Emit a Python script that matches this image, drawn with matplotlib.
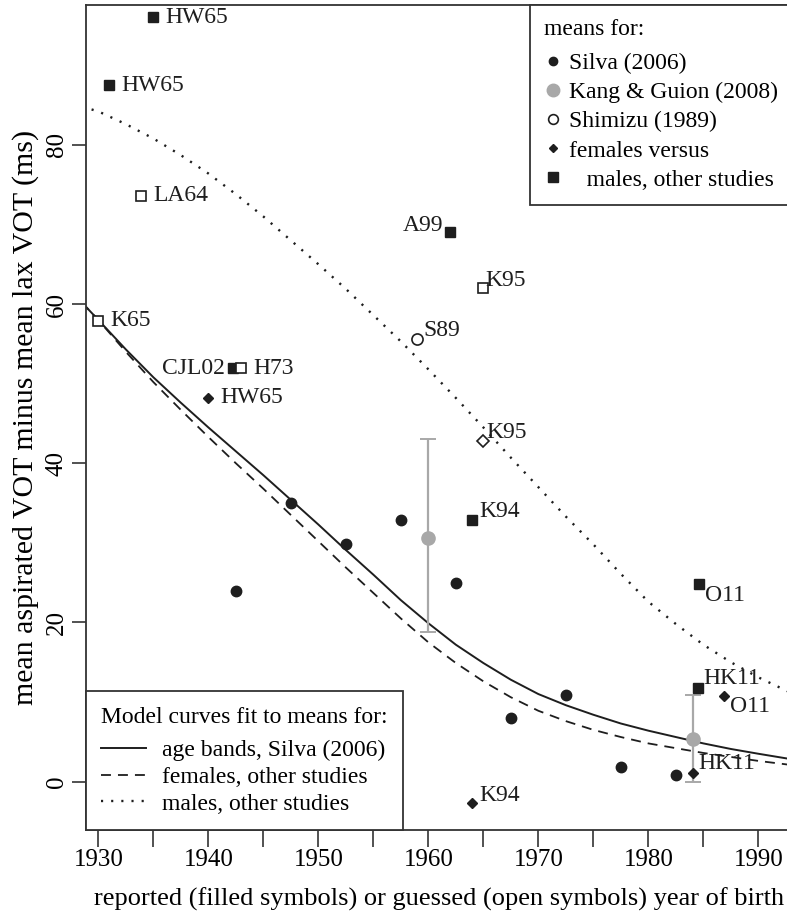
import numpy as np
import matplotlib
matplotlib.use('Agg')
import matplotlib.pyplot as plt
from matplotlib.lines import Line2D

plt.rcParams['font.family'] = ['Liberation Serif', 'DejaVu Serif']
plt.rcParams['font.size'] = 17

# ---- data ----
# Silva (2006) age bands
SILVA_YEAR = [1942.5, 1947.5, 1952.5, 1957.5, 1962.5, 1967.5, 1972.5, 1977.5, 1982.5]
SILVA_VOT = [23.9, 35.0, 29.9, 32.9, 24.9, 8.0, 10.9, 1.8, 0.8]

# Kang & Guion (2008), mean with range
KG_YEAR = [1960.0, 1984.1]
KG_VOT = [30.6, 5.3]
KG_LOW = [18.8, -0.1]
KG_HIGH = [43.0, 10.9]

# Shimizu (1989)
SHIM_YEAR = [1959.0]
SHIM_VOT = [55.6]
SHIM_LABEL = ['S89']

# females, other studies (open = guessed year)
FEM_YEAR = [1940.0, 1965.0, 1964.0, 1986.9, 1984.1]
FEM_VOT = [48.2, 42.8, -2.7, 10.8, 1.1]
FEM_LABEL = ['HW65', 'K95', 'K94', 'O11', 'HK11']
FEM_OPEN = [False, True, False, False, False]

# males, other studies
MALE_YEAR = [1935.0, 1931.0, 1933.9, 1930.0, 1942.2, 1943.0, 1962.0, 1965.0, 1964.0, 1984.6, 1984.5]
MALE_VOT = [96.0, 87.5, 73.6, 57.9, 51.9, 51.9, 69.0, 62.0, 32.9, 24.8, 11.7]
MALE_LABEL = ['HW65', 'HW65', 'LA64', 'K65', 'CJL02', 'H73', 'A99', 'K95', 'K94', 'O11', 'HK11']
MALE_OPEN = [False, False, True, True, False, True, False, True, False, False, False]

# model curves
CURVE_YEAR = [1928.5, 1930, 1932.5, 1935, 1937.5, 1940, 1942.5, 1945, 1947.5, 1950, 1952.5, 1955,
              1957.5, 1960, 1962.5, 1965, 1967.5, 1970, 1972.5, 1975, 1977.5, 1980, 1982.5, 1985,
              1987.5, 1990, 1993.5]
CURVE_SILVA = [60.2, 58.0, 54.3, 50.8, 47.6, 44.5, 41.5, 38.5, 35.4, 32.3, 29.1, 26.0,
               22.8, 19.9, 17.2, 14.9, 12.8, 11.0, 9.6, 8.4, 7.3, 6.4, 5.6, 4.8,
               4.1, 3.5, 2.7]
CURVE_FEM = [60.2, 58.0, 54.0, 50.2, 46.7, 43.3, 40.0, 36.8, 33.5, 30.2, 26.9, 23.7,
             20.5, 17.5, 14.9, 12.6, 10.6, 8.9, 7.6, 6.5, 5.6, 4.8, 4.2, 3.6,
             3.1, 2.6, 2.0]
CURVE_MALE = [84.8, 84.2, 82.6, 80.8, 78.7, 76.4, 73.8, 71.0, 68.0, 65.0, 61.9, 58.6,
              55.3, 51.8, 48.2, 44.5, 40.7, 37.0, 33.3, 29.8, 26.1, 22.6, 19.8, 17.2,
              15.0, 13.1, 10.8]

# label offsets in pixels (dx, dy, ha)
FEM_OFFS = [(12, 0, 'left'), (3, 8, 'left'), (7, 8, 'left'), (6, -11, 'left'), (5, 9, 'left')]
MALE_OFFS = [(12, 0, 'left'), (12, 0, 'left'), (12, 0, 'left'), (12, 0, 'left'), (-8, 0, 'right'),
             (12, 0, 'left'), (-7, 7, 'right'), (2, 8, 'left'), (7, 8, 'left'), (6, -11, 'left'),
             (6, 10, 'left')]
SHIM_OFFS = [(6, 9, 'left')]

INK = '#1e1e1e'
GREY = '#a8a8a8'
DASH = (5.5, 3.9)
DOT = (0, (0.9, 3.4))

fig = plt.figure(figsize=(7.87, 9.19), dpi=100)
ax = fig.add_axes([86 / 787, 89 / 919, (792 - 86) / 787, (914.5 - 89) / 919])

# curves
ax.plot(CURVE_YEAR, CURVE_SILVA, '-', color=INK, lw=1.4)
ax.plot(CURVE_YEAR, CURVE_FEM, color=INK, lw=1.3, dashes=DASH)
ax.plot(CURVE_YEAR, CURVE_MALE, color=INK, lw=1.7, ls=DOT)

# Kang & Guion
kg_err = [np.array(KG_VOT) - np.array(KG_LOW), np.array(KG_HIGH) - np.array(KG_VOT)]
ax.errorbar(KG_YEAR, KG_VOT, yerr=kg_err, fmt='o', color=GREY, ms=9.5, elinewidth=1.6,
            capsize=6, capthick=1.4, zorder=4)

# Silva
ax.plot(SILVA_YEAR, SILVA_VOT, 'o', color=INK, ms=7.5, zorder=5)

# Shimizu
ax.plot(SHIM_YEAR, SHIM_VOT, 'o', mfc='white', mec=INK, mew=1.2, ms=8, zorder=5)


def label_points(xs, ys, labels, offs):
    for x, y, t, (dx, dy, ha) in zip(xs, ys, labels, offs):
        ax.annotate(t, (x, y), xytext=(dx, dy), textcoords='offset pixels',
                    ha=ha, va='center', fontsize=17, color=INK, zorder=6)


for x, y, op in zip(FEM_YEAR, FEM_VOT, FEM_OPEN):
    if op:
        ax.plot(x, y, 'D', mfc='white', mec=INK, mew=1.2, ms=6.5, zorder=5)
    else:
        ax.plot(x, y, 'D', color=INK, ms=5, zorder=5)

for x, y, op in zip(MALE_YEAR, MALE_VOT, MALE_OPEN):
    if op:
        ax.plot(x, y, 's', mfc='white', mec=INK, mew=1.2, ms=7.5, zorder=5)
    else:
        ax.plot(x, y, 's', color=INK, ms=7.5, zorder=5)

label_points(SHIM_YEAR, SHIM_VOT, SHIM_LABEL, SHIM_OFFS)
label_points(FEM_YEAR, FEM_VOT, FEM_LABEL, FEM_OFFS)
label_points(MALE_YEAR, MALE_VOT, MALE_LABEL, MALE_OFFS)

# axes
ax.set_xlim(1928.88, 1993.06)
ax.set_ylim(-6.08, 97.63)
ax.set_xticks(range(1930, 1991, 10))
ax.set_xticks(range(1935, 1991, 10), minor=True)
ax.set_yticks(range(0, 81, 20))
ax.tick_params(axis='x', which='both', length=12.5, width=1.2, color='#333333', pad=1, labelsize=18)
ax.tick_params(axis='y', length=10, width=1.2, color='#333333', pad=3, labelsize=18)
for lab in ax.get_yticklabels():
    lab.set_rotation(90)
    lab.set_va('center')
for s in ax.spines.values():
    s.set_linewidth(1.3)
    s.set_color('#333333')
ax.spines['right'].set_visible(False)

ax.set_xlabel('reported (filled symbols) or guessed (open symbols) year of birth', fontsize=19, labelpad=12)
ax.set_ylabel('mean aspirated VOT minus mean lax VOT (ms)', fontsize=21.5, labelpad=5)

# legends
h1 = [Line2D([], [], ls='', marker='o', color=INK, ms=6),
      Line2D([], [], ls='', marker='o', color=GREY, ms=9),
      Line2D([], [], ls='', marker='o', mfc='white', mec=INK, mew=1.2, ms=7),
      Line2D([], [], ls='', marker='D', color=INK, ms=4.5),
      Line2D([], [], ls='', marker='s', color=INK, ms=7)]
t1 = ['Silva (2006)', 'Kang & Guion (2008)', 'Shimizu (1989)', 'females versus',
      '   males, other studies']
leg1 = ax.legend(h1, t1, loc='upper right', title='means for:', title_fontsize=17, fontsize=17,
                 alignment='left', borderaxespad=0, fancybox=False, framealpha=1,
                 edgecolor='#333333', borderpad=0.6, handlelength=0.8, handletextpad=0.25,
                 labelspacing=0.32)
leg1.get_frame().set_linewidth(1.3)
leg1._legend_box.sep = 0.32 * 17 + 4
ax.add_artist(leg1)

h2 = [Line2D([], [], ls='-', color=INK, lw=1.4),
      Line2D([], [], color=INK, lw=1.3, dashes=DASH),
      Line2D([], [], color=INK, lw=1.7, ls=DOT)]
t2 = ['age bands, Silva (2006)', 'females, other studies', 'males, other studies']
leg2 = ax.legend(h2, t2, loc='lower left', title='Model curves fit to means for:', title_fontsize=17,
                 fontsize=17, alignment='left', borderaxespad=0, fancybox=False, framealpha=1,
                 edgecolor='#333333', borderpad=0.65, handlelength=1.9, handletextpad=0.65,
                 labelspacing=0.22)
leg2.get_frame().set_linewidth(1.3)
leg2._legend_box.sep = 0.22 * 17 + 5

fig.savefig('out.png', dpi=100, facecolor='white')
